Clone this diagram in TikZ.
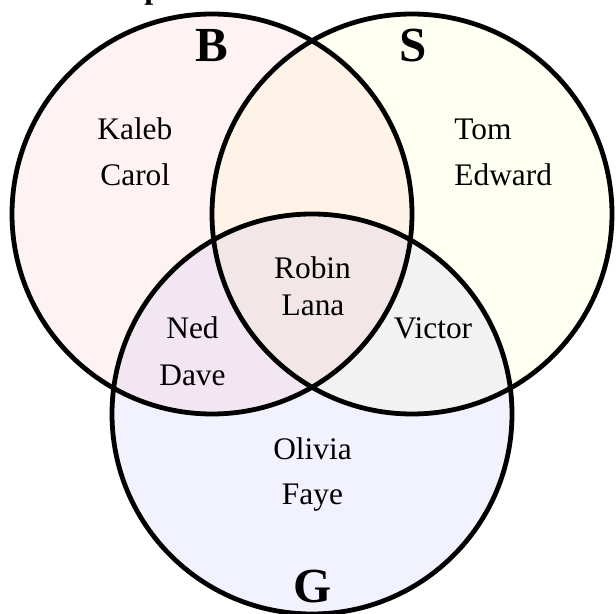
\documentclass[tikz,border=0pt]{standalone}
\usepackage{fontspec}
\setmainfont{Liberation Serif}
\definecolor{cB}{RGB}{255,242,242}
\definecolor{cS}{RGB}{255,255,242}
\definecolor{cG}{RGB}{242,242,255}
\definecolor{cBS}{RGB}{255,242,230}
\definecolor{cBG}{RGB}{242,230,242}
\definecolor{cSG}{RGB}{242,242,242}
\definecolor{cBSG}{RGB}{242,230,230}
\begin{document}
\begin{tikzpicture}[x=0.5pt,y=-0.5pt,
  ring/.style={draw=black,line width=2.4pt},
  person/.style={inner sep=0pt,font=\fontsize{15.7}{18}\selectfont},
  setlabel/.style={inner sep=0pt,anchor=base,font=\fontsize{24.5}{28}\selectfont\bfseries}]
\useasboundingbox (0,0) rectangle (616,614);
\coordinate (cb) at (212,214);
\coordinate (cs) at (412,214);
\coordinate (cg) at (312,414);
% base fills
\fill[cB] (cb) circle[radius=100pt];
\fill[cS] (cs) circle[radius=100pt];
\fill[cG] (cg) circle[radius=100pt];
% S and G overlap
\begin{scope}
  \clip (cs) circle[radius=100pt];
  \fill[cSG] (cg) circle[radius=100pt];
\end{scope}
% overlaps with B
\begin{scope}
  \clip (cb) circle[radius=100pt];
  \fill[cBS] (cs) circle[radius=100pt];
  \fill[cBG] (cg) circle[radius=100pt];
  \clip (cs) circle[radius=100pt];
  \fill[cBSG] (cg) circle[radius=100pt];
\end{scope}
% outlines
\draw[ring] (cb) circle[radius=100pt];
\draw[ring] (cs) circle[radius=100pt];
\draw[ring] (cg) circle[radius=100pt];
% title remnant
\node[inner sep=0pt,anchor=base west,font=\fontsize{16}{18}\selectfont\bfseries] (title) at (144,-1.5) {p};
% set labels
\node[setlabel] (labB) at (212,62) {B};
\node[setlabel] (labS) at (413,62) {S};
\node[setlabel] (labG) at (312.5,603) {G};
% names
\node[person,anchor=base west] (kaleb) at (97,139.5) {Kaleb};
\node[person,anchor=base west] (carol) at (100,185.5) {Carol};
\node[person,anchor=base west] (tom) at (454,139.5) {Tom};
\node[person,anchor=base west] (edward) at (454,185.5) {Edward};
\node[person,anchor=base] (robin) at (312.5,279) {Robin};
\node[person,anchor=base] (lana) at (313,315.5) {Lana};
\node[person,anchor=base] (ned) at (192.5,338.7) {Ned};
\node[person,anchor=base] (dave) at (192.5,385.8) {Dave};
\node[person,anchor=base] (victor) at (433,338.7) {Victor};
\node[person,anchor=base] (olivia) at (312.5,459.7) {Olivia};
\node[person,anchor=base] (faye) at (312.5,505) {Faye};
\end{tikzpicture}
\end{document}
